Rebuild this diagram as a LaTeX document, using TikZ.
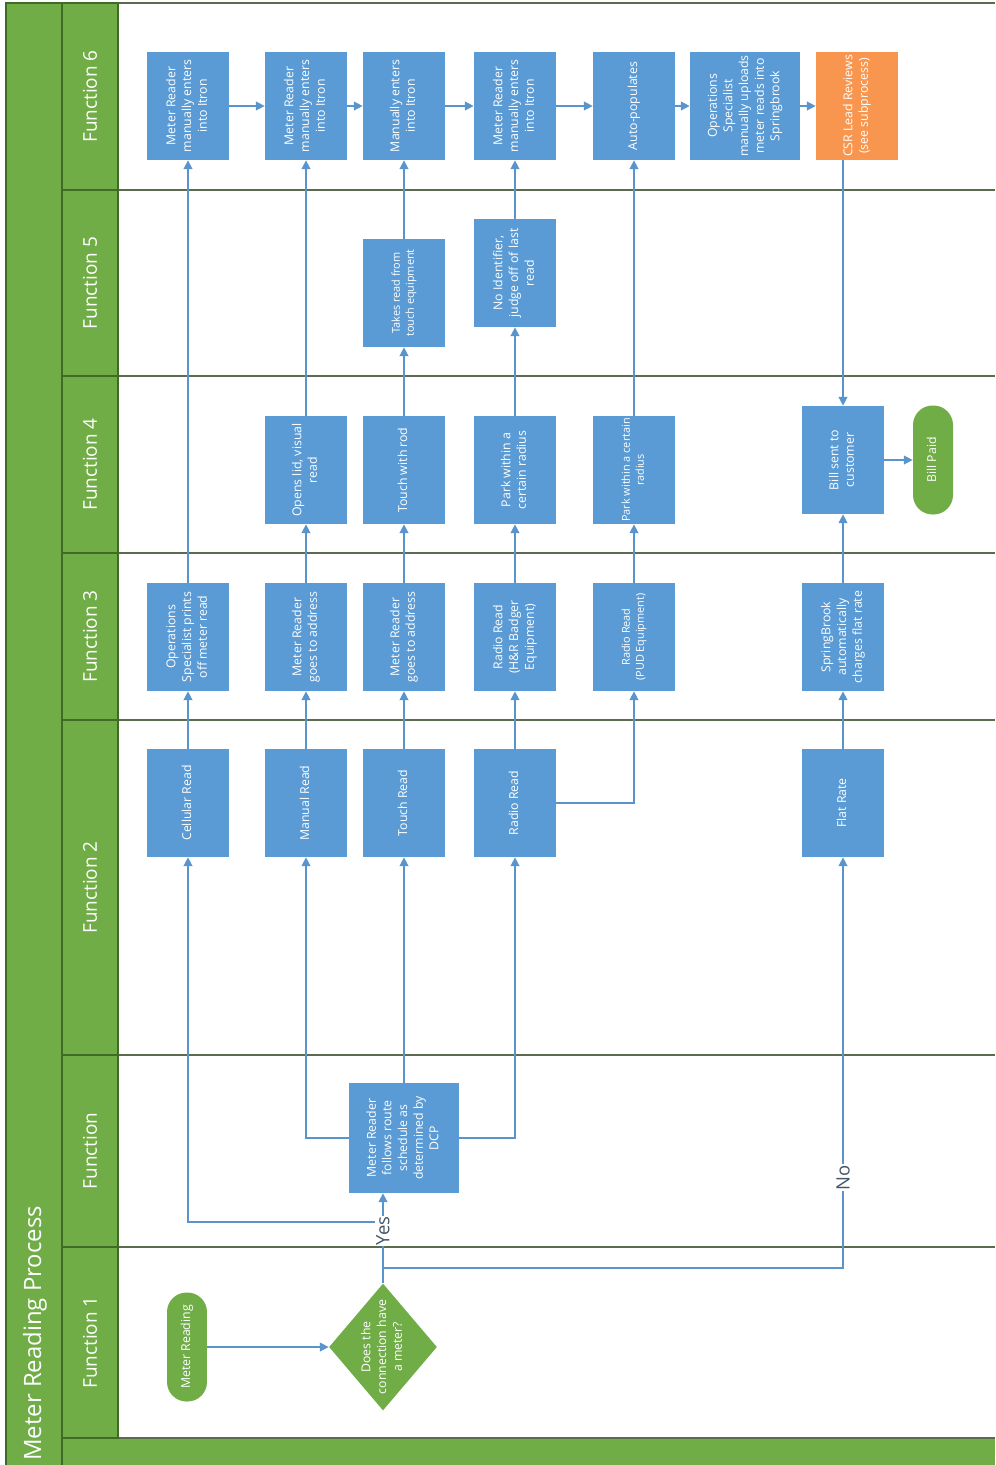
\documentclass[tikz,border=0pt]{standalone}
\usepackage{fontspec}
\setmainfont{Open Sans}
\usepackage{graphicx}
\usetikzlibrary{positioning,arrows.meta,shapes.geometric}
\definecolor{procblue}{HTML}{5B9BD5}
\definecolor{flowblue}{HTML}{5A94CC}
\definecolor{lanegreen}{HTML}{70AD47}
\definecolor{lanedark}{HTML}{3E6B25}
\definecolor{laneline}{HTML}{5C6B4E}
\definecolor{csrorange}{HTML}{F8964F}
\definecolor{answergray}{HTML}{44546A}
\newcommand{\vtext}[1]{\rotatebox{90}{\begin{tabular}{@{}c@{}}#1\end{tabular}}}
\newcommand{\boxfont}{\fontsize{7}{8.9}\selectfont}
\newcommand{\smallboxfont}{\fontsize{6.2}{8}\selectfont}

\begin{document}
\begin{tikzpicture}[x=0.02cm, y=-0.02cm,
    proc/.style={fill=procblue, text=white, inner sep=1pt, minimum width=1.64cm,
                 minimum height=2.16cm, font=\boxfont},
    procsmall/.style={proc, font=\smallboxfont},
    term/.style={fill=lanegreen, text=white, rounded corners=0.39cm, inner sep=1pt,
                 minimum width=0.8cm, minimum height=2.18cm, font=\boxfont},
    decision/.style={diamond, fill=lanegreen, inner sep=0pt, minimum width=2.16cm,
                 minimum height=2.54cm},
    flow/.style={draw=flowblue, line width=0.8pt, -{Triangle[length=5pt,width=5pt]}},
    link/.style={draw=flowblue, line width=0.8pt},
    answer/.style={fill=white, text=answergray, inner sep=0.5pt,
                 font=\fontsize{10.5}{12}\selectfont},
    lanehead/.style={draw=lanedark, fill=lanegreen, line width=0.8pt},
    lanelabel/.style={text=white, font=\fontsize{10.8}{13}\selectfont}]
  \useasboundingbox (0,0) rectangle (995,1465);

  % pool and lanes
  \fill[lanegreen] (62,1438) rectangle (995,1465);
  \draw[lanedark, fill=lanegreen, line width=0.8pt] (6,3) rectangle (62,1470);
  \draw[laneline, line width=0.8pt] (62,3) -- (995,3);
  \foreach \y in {190,376,553,720,1055,1247,1438}
    \draw[laneline, line width=0.8pt] (118,\y) -- (995,\y);
  \foreach \top/\bot/\name in {3/190/Function 6, 190/376/Function 5, 376/553/Function 4,
      553/720/Function 3, 720/1055/Function 2, 1055/1247/Function, 1247/1438/Function 1} {
    \draw[lanehead] (62,\top) rectangle (118,\bot);
    \node[lanelabel] at (90,{(\top+\bot)/2}) {\rotatebox{90}{\name}};
  }
  \node[text=white, inner sep=0pt, anchor=south, font=\fontsize{13.6}{16}\selectfont]
    (pooltitle) at (35,1461) {\rotatebox{90}{Meter Reading Process}};

  % Function 6
  \node[proc] (itronA) at (188,106) {\vtext{Meter Reader\\manually enters\\into Itron}};
  \node[proc] (itronB) at (306,106) {\vtext{Meter Reader\\manually enters\\into Itron}};
  \node[proc] (itronC) at (404,106) {\vtext{Manually enters\\into Itron}};
  \node[proc] (itronD) at (515,106) {\vtext{Meter Reader\\manually enters\\into Itron}};
  \node[proc] (autopop) at (634,106) {\vtext{Auto-populates}};
  \node[proc, minimum width=2.2cm] (upload) at (745,106)
    {\vtext{Operations\\Specialist\\manually uploads\\meter reads into\\Springbrook}};
  \node[proc, fill=csrorange] (csr) at (857,106) {\vtext{CSR Lead Reviews\\(see subprocess)}};

  % Function 5
  \node[procsmall] (touchequip) at (404,293) {\vtext{Takes read from\\touch equipment}};
  \node[proc] (noident) at (515,273) {\vtext{No Identifier,\\judge off of last\\read}};

  % Function 4
  \node[proc] (opens) at (306,470) {\vtext{Opens lid, visual\\read}};
  \node[proc] (rod) at (404,470) {\vtext{Touch with rod}};
  \node[proc] (parkD) at (515,470) {\vtext{Park within a\\certain radius}};
  \node[procsmall] (parkE) at (634,470) {\vtext{Park within a certain\\radius}};
  \node[proc] (billsent) at (843,460) {\vtext{Bill sent to\\customer}};
  \node[term] (billpaid) at (933,460) {\vtext{Bill Paid}};

  % Function 3
  \node[proc] (prints) at (188,637) {\vtext{Operations\\Specialist prints\\off meter read}};
  \node[proc] (addrB) at (306,637) {\vtext{Meter Reader\\goes to address}};
  \node[proc] (addrC) at (404,637) {\vtext{Meter Reader\\goes to address}};
  \node[proc] (radioHR) at (515,637) {\vtext{Radio Read\\(H\&R Badger\\Equipment)}};
  \node[procsmall] (radioPUD) at (634,637) {\vtext{Radio Read\\(PUD Equipment)}};
  \node[proc] (springbrook) at (843,637)
    {\vtext{SpringBrook\\automatically\\charges flat rate}};

  % Function 2
  \node[proc] (cellular) at (188,803) {\vtext{Cellular Read}};
  \node[proc] (manual) at (306,803) {\vtext{Manual Read}};
  \node[proc] (touch) at (404,803) {\vtext{Touch Read}};
  \node[proc] (radio) at (515,803) {\vtext{Radio Read}};
  \node[proc] (flat) at (843,803) {\vtext{Flat Rate}};

  % Function
  \node[proc, minimum width=2.2cm, minimum height=2.2cm] (route) at (404,1138)
    {\vtext{Meter Reader\\follows route\\schedule as\\determined by\\DCP}};

  % Function 1
  \node[term] (start) at (187,1347) {\vtext{Meter Reading}};
  \node[decision] (meter) at (383,1347) {};
  \node[text=white, inner sep=0pt, font=\boxfont] (meterq) at (meter)
    {\vtext{Does the\\connection have\\a meter?}};

  % connectors
  \coordinate (yesj) at (383,1222);
  \coordinate (noj) at (383,1268);
  \draw[flow] (start) -- (meter);
  \draw[flow] (yesj) -| (cellular.south);
  \draw[flow] (noj) -| (flat.south)
    node[answer, pos=0.61] (nolbl) {\rotatebox{90}{No}};
  \draw[flow] (meter.north) -- (meter.north |- route.south)
    node[answer, pos=0.58] (yeslbl) {\rotatebox{90}{Yes}};
  \draw[flow] (route.west) -| (manual.south);
  \draw[flow] (route.north) -- (touch.south);
  \draw[flow] (route.east) -| (radio.south);

  \draw[flow] (cellular) -- (prints);
  \draw[flow] (prints) -- (itronA);
  \draw[flow] (manual) -- (addrB);
  \draw[flow] (addrB) -- (opens);
  \draw[flow] (opens) -- (itronB);
  \draw[flow] (touch) -- (addrC);
  \draw[flow] (addrC) -- (rod);
  \draw[flow] (rod) -- (touchequip);
  \draw[flow] (touchequip) -- (itronC);
  \draw[flow] (radio) -- (radioHR);
  \draw[flow] (radioHR) -- (parkD);
  \draw[flow] (parkD) -- (noident);
  \draw[flow] (noident) -- (itronD);
  \draw[flow] (radio.east) -| (radioPUD.south);
  \draw[flow] (radioPUD) -- (parkE);
  \draw[flow] (parkE) -- (autopop);

  \draw[flow] (itronA) -- (itronB);
  \draw[flow] (itronB) -- (itronC);
  \draw[flow] (itronC) -- (itronD);
  \draw[flow] (itronD) -- (autopop);
  \draw[flow] (autopop) -- (upload);
  \draw[flow] (upload) -- (csr);
  \draw[flow] (billsent.north |- csr.south) -- (billsent.north);

  \draw[flow] (flat) -- (springbrook);
  \draw[flow] (springbrook) -- (billsent);
  \draw[flow] (billsent) -- (billpaid);
\end{tikzpicture}
\end{document}
